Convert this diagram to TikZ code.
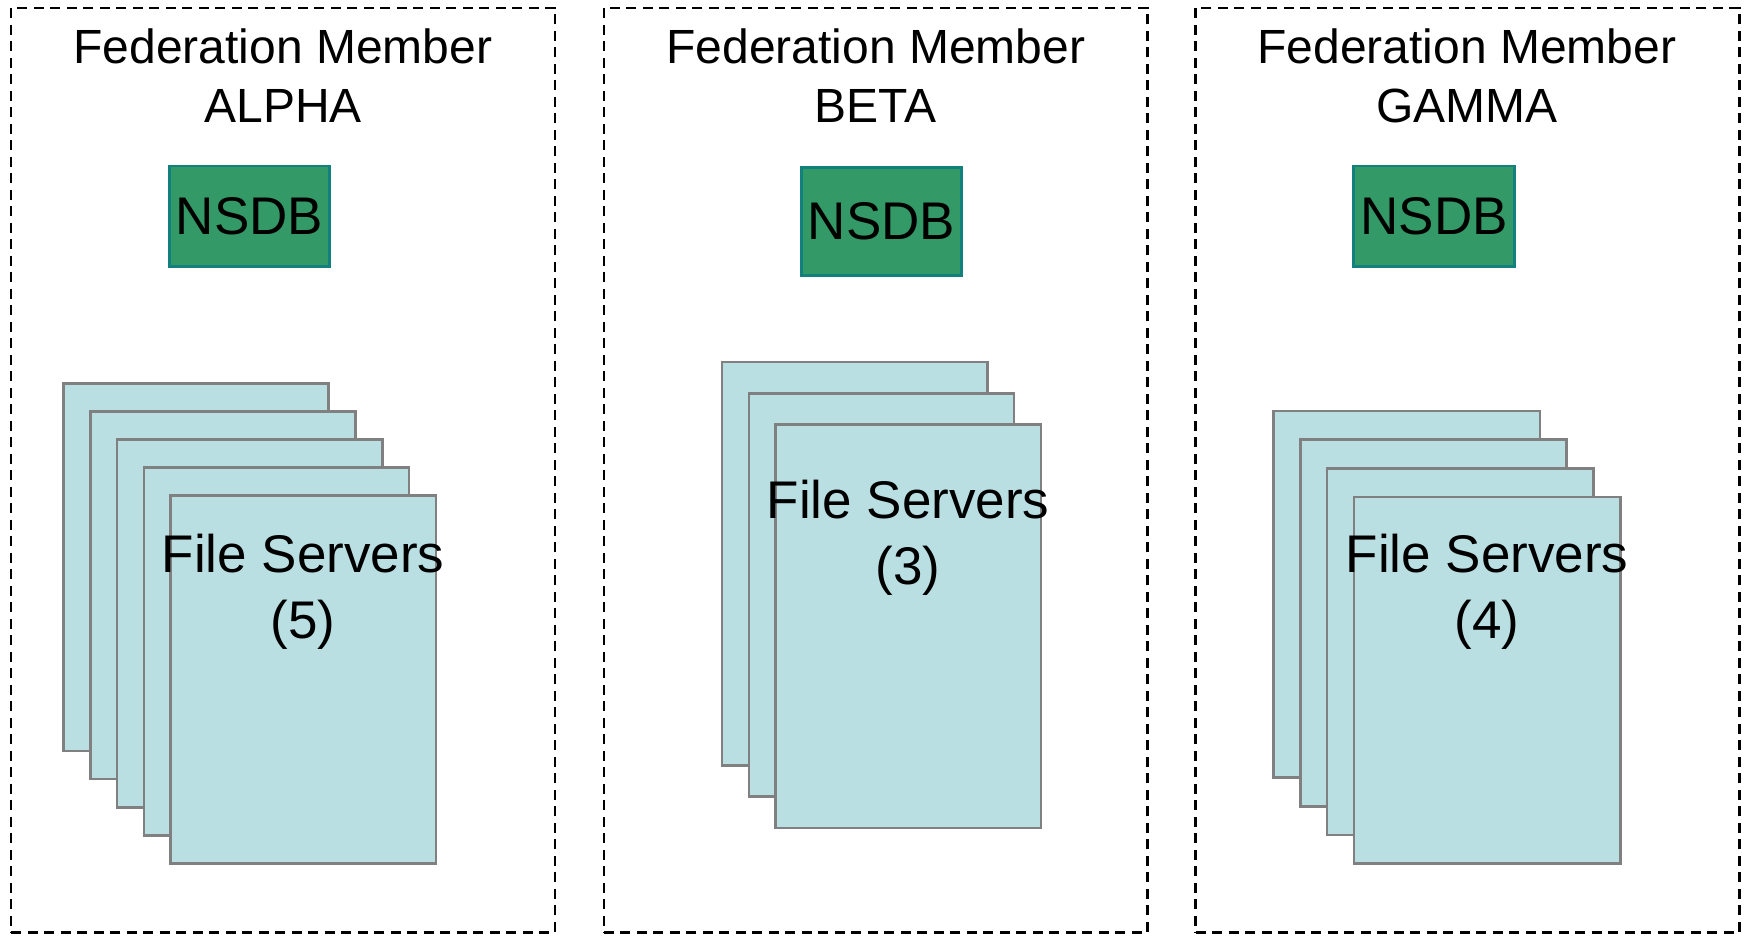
\documentclass[tikz,border=0pt]{standalone}
\usepackage{fontspec}
\setmainfont{Liberation Sans}
\definecolor{nsdbfill}{HTML}{339966}
\definecolor{nsdbline}{HTML}{12807C}
\definecolor{srvfill}{HTML}{BADFE2}
\definecolor{srvline}{HTML}{808080}
\begin{document}
\begin{tikzpicture}[x=1pt,y=-1pt,
  member/.style={draw=black, line width=2.6pt, dash pattern=on 10pt off 6.5pt,
    inner sep=0pt, outer sep=0pt, anchor=north west,
    minimum width=543.8pt, minimum height=924.8pt},
  membertitle/.style={align=center, inner sep=0pt, anchor=base,
    font=\fontsize{48}{59}\selectfont},
  nsdbbox/.style={draw=nsdbline, fill=nsdbfill, line width=2.8pt,
    inner sep=0pt, outer sep=0pt, minimum width=160.4pt,
    font=\fontsize{53}{60}\selectfont},
  server/.style={draw=srvline, fill=srvfill, line width=2.6pt,
    inner sep=0pt, outer sep=0pt, anchor=north west, minimum width=265.2pt},
  srvlabel/.style={align=center, inner sep=0pt, anchor=base,
    font=\fontsize{53}{66}\selectfont}
]
\useasboundingbox (0,0) rectangle (1747,935);

% federation member frames
\node[member] (fa) at (11.1,7.8) {};
\node[member] (fb) at (603.9,7.8) {};
\node[member] (fc) at (1195.5,7.8) {};

% titles
\node[membertitle] (tA) at (283,122.5) {Federation Member\\ALPHA};
\node[membertitle] (tB) at (875.8,122.5) {Federation Member\\BETA};
\node[membertitle] (tC) at (1466.9,122.5) {Federation Member\\GAMMA};

% namespace databases
\node[nsdbbox, minimum height=100.3pt] (nA) at (249.6,216.1) {NSDB};
\node[nsdbbox, minimum height=108pt]   (nB) at (881.4,221.2) {NSDB};
\node[nsdbbox, minimum height=100.3pt] (nC) at (1434,216.1) {NSDB};

% ALPHA: five file servers
\foreach \i in {0,...,4}
  \node[server, minimum height=367.7pt] (sA\i) at ({63.5+26.8*\i},{383.3+28.1*\i}) {};
\node[srvlabel] (lA) at (303.1,638.5) {File Servers\\(5)};

% BETA: three file servers
\foreach \i in {0,...,2}
  \node[server, minimum height=403.3pt] (sB\i) at ({722+26.8*\i},{362.1+31.2*\i}) {};
\node[srvlabel] (lB) at (908.1,584) {File Servers\\(3)};

% GAMMA: four file servers
\foreach \i in {0,...,3}
  \node[server, minimum height=366.6pt, minimum width=266.3pt] (sC\i) at ({1273.5+26.8*\i},{411.1+28.6*\i}) {};
\node[srvlabel] (lC) at (1487,638.5) {File Servers\\(4)};
\end{tikzpicture}
\end{document}
